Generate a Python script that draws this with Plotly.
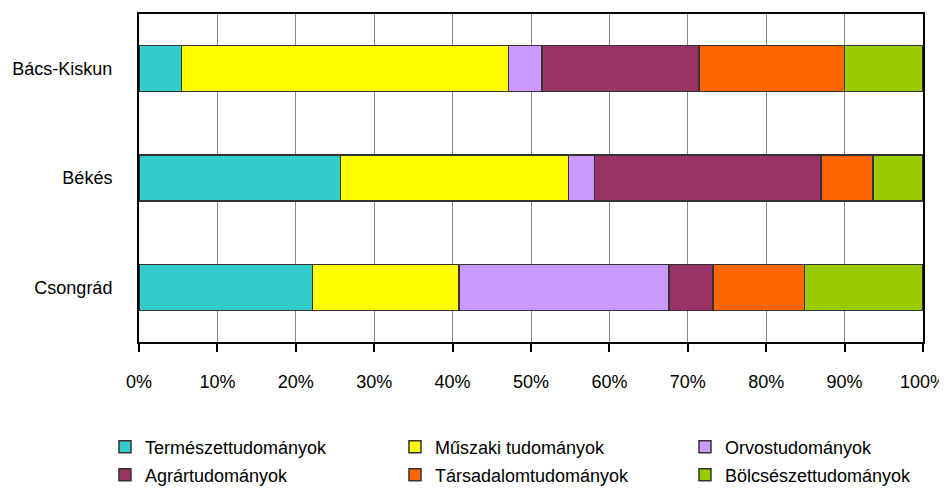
import plotly.graph_objects as go

categories = ["Bács-Kiskun", "Békés", "Csongrád"]
series_names = ["Természettudományok", "Műszaki tudományok", "Orvostudományok",
                "Agrártudományok", "Társadalomtudományok", "Bölcsészettudományok"]
series_values = [
    [5.4, 25.7, 22.1],
    [41.7, 29.1, 18.7],
    [4.3, 3.3, 26.8],
    [20.0, 28.9, 5.6],
    [18.6, 6.6, 11.7],
    [10.0, 6.4, 15.1],
]
colors = ["#33CCCC", "#FFFF00", "#CC99FF", "#993366", "#FF6600", "#99CC00"]
tick_vals = [0, 10, 20, 30, 40, 50, 60, 70, 80, 90, 100]
tick_text = [f"{v}%" for v in tick_vals]

fig = go.Figure()
for i, (name, vals, col) in enumerate(zip(series_names, series_values, colors)):
    fig.add_trace(go.Bar(
        y=categories, x=vals, name=name, orientation="h",
        legend="legend" if i < 3 else "legend2",
        marker=dict(color=col, line=dict(color="#333333", width=1.5)),
    ))

leg_common = dict(orientation="h", x=-0.0434, xanchor="left", yanchor="middle",
                  entrywidth=245, entrywidthmode="pixels", traceorder="normal",
                  font=dict(size=18), bgcolor="rgba(0,0,0,0)")

fig.update_layout(
    barmode="stack",
    bargap=0.58,
    width=939, height=481,
    margin=dict(l=131, r=24, t=6, b=147, autoexpand=False),
    paper_bgcolor="white", plot_bgcolor="white",
    font=dict(family="Liberation Sans, Arial, sans-serif", size=18, color="black"),
    showlegend=True,
    legend=dict(leg_common, y=-(447 - 342) / 328),
    legend2=dict(leg_common, y=-(475 - 342) / 328),
    xaxis=dict(range=[0, 100], tickvals=tick_vals, ticktext=tick_text,
               showgrid=True, gridcolor="#888888", gridwidth=1,
               showline=True, linecolor="black", linewidth=2, mirror=True,
               ticks="outside", ticklen=8, tickcolor="black", tickwidth=1.5,
               ticklabelstandoff=14, automargin=False,
               zeroline=False, fixedrange=True),
    yaxis=dict(categoryorder="array", categoryarray=categories, autorange="reversed",
               showline=True, linecolor="black", linewidth=2, mirror=True,
               ticks="", ticklabelstandoff=21, automargin=False,
               showgrid=False, fixedrange=True),
)
fig.write_html("out.html")
